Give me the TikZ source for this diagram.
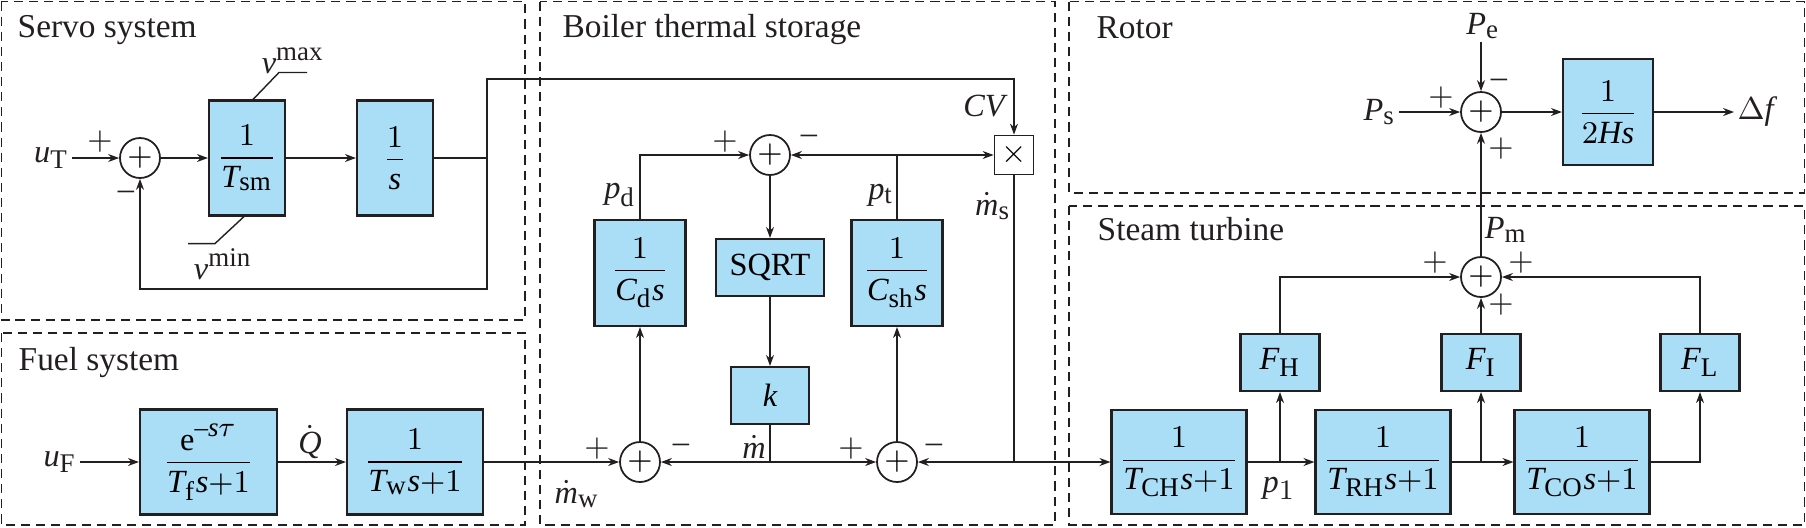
\documentclass[tikz,border=0pt]{standalone}
\usepackage{fontspec}
\setmainfont{Liberation Serif}
\usepackage{amsmath}
\usepackage[italic]{mathastext}
\usepackage{tikz}
\usetikzlibrary{arrows.meta, positioning}
\definecolor{blkfill}{RGB}{170,222,246}
\definecolor{mydark}{RGB}{35,31,32}
\newcommand{\blkfont}{\fontsize{9.2}{11}\selectfont}
\tikzset{
  block/.style={rectangle, draw=mydark, fill=blkfill, line width=0.6pt,
    inner sep=0pt, font=\blkfont},
  sumjunc/.style={circle, draw=mydark, fill=white, minimum size=4mm,
    inner sep=0pt, line width=0.5pt, font=\blkfont},
  multbox/.style={rectangle, draw=mydark, fill=white, minimum size=3.9mm,
    inner sep=0pt, line width=0.5pt, font=\blkfont},
  lbl/.style={inner sep=0.8pt, font=\blkfont, text=mydark},
  sgn/.style={inner sep=0pt, font=\blkfont, text=mydark},
  title/.style={anchor=base west, inner sep=0pt, font=\fontsize{9.5}{11}\selectfont, text=mydark},
  region/.style={draw=mydark, dash pattern=on 2.6pt off 1.7pt, line width=0.5pt},
  arrow/.style={-{Stealth[length=1.1mm, width=0.8mm]}, line width=0.4pt, color=mydark},
  line/.style={line width=0.4pt, color=mydark}
}

\begin{document}
\begin{tikzpicture}[x=0.1mm, y=-0.1mm]
  \useasboundingbox (0,0) rectangle (1806,527);

  % Subsystem frames
  \draw[region] (1.5,1.5) rectangle (525,320);
  \draw[region] (1.5,333) rectangle (525,525);
  \draw[region] (540,1.5) rectangle (1055,525);
  \draw[region] (1069,1.5) rectangle (1804.5,193);
  \draw[region] (1069,206) rectangle (1804.5,525);
  \node[title] (tServo) at (17,37) {Servo system};
  \node[title] (tFuel) at (18,370) {Fuel system};
  \node[title] (tBoiler) at (562,37) {Boiler thermal storage};
  \node[title] (tRotor) at (1096,38) {Rotor};
  \node[title] (tSteam) at (1097,240) {Steam turbine};

  % Servo system
  \node[sumjunc] (sumS) at (140,158) {$+$};
  \node[lbl, left=4.7mm of sumS] (uT) {$u_{\mathrm{T}}$};
  \node[block, minimum width=7.6mm, minimum height=11.5mm] (Tsm) at (247,158) {$\dfrac{1}{T_{\mathrm{sm}}}$};
  \node[block, minimum width=7.6mm, minimum height=11.5mm] (integ) at (395,158) {$\dfrac{1}{s}$};
  \coordinate (jCV) at (487,158);
  \coordinate (fbR) at (487,289);
  \coordinate (cvT) at (487,79);
  \node[lbl] (vmax) at (293,61) {$v^{\mathrm{max}}$};
  \node[lbl] (vmin) at (223,264) {$v^{\mathrm{min}}$};
  \draw[line] ([xshift=0.6mm]Tsm.north) -- ++(26,-27) -- ++(28,0);
  \draw[line] ([xshift=-0.3mm]Tsm.south) -- ++(-29,27) -- ++(-27,0);
  \node[sgn] at (100,142) {$+$};
  \node[sgn] at (126,195) {$-$};

  % Boiler thermal storage
  \node[sumjunc] (sumP) at (770,155) {$+$};
  \node[multbox] (mult) at (1014,155) {$\times$};
  \node[block, minimum width=9.1mm, minimum height=10.6mm] (Cd) at (640,273) {$\dfrac{1}{C_{\mathrm{d}}s}$};
  \node[block, minimum width=10.8mm, minimum height=5.7mm] (sqrtb) at (770,267.5) {SQRT};
  \node[block, minimum width=9.1mm, minimum height=10.6mm] (Csh) at (897,273) {$\dfrac{1}{C_{\mathrm{sh}}s}$};
  \node[block, minimum width=7.8mm, minimum height=5.7mm] (kgain) at (770,395.5) {$k$};
  \node[sumjunc] (sumD) at (640,462) {$+$};
  \node[sumjunc] (sumT) at (897,462) {$+$};
  \coordinate (jPt) at (897,155);
  \coordinate (jM) at (770,462);
  \coordinate (jMs) at (1014,462);
  \node[lbl] (CV) at (984,106) {$CV$};
  \node[lbl] (pd) at (620,195) {$p_{\mathrm{d}}$};
  \node[lbl] (pt) at (881,195) {$p_{\mathrm{t}}$};
  \node[lbl] (ms) at (993,206) {$\dot{m}_{\mathrm{s}}$};
  \node[lbl] (mdot) at (754,447) {$\dot{m}$};
  \node[lbl] (mw) at (577,494) {$\dot{m}_{\mathrm{w}}$};
  \node[sgn] at (725,142) {$+$};
  \node[sgn] at (809,139) {$-$};
  \node[sgn] at (597,449) {$+$};
  \node[sgn] at (681,448) {$-$};
  \node[sgn] at (851,449) {$+$};
  \node[sgn] at (934,448) {$-$};

  % Fuel system
  \node[block, minimum width=13.7mm, minimum height=10.5mm] (Tf) at (208.5,462) {$\dfrac{\mathrm{e}^{-s\tau}}{T_{\mathrm{f}}s{+}1}$};
  \node[block, minimum width=13.6mm, minimum height=10.5mm] (Tw) at (415,462) {$\dfrac{1}{T_{\mathrm{w}}s{+}1}$};
  \node[lbl, left=5.9mm of Tf] (uF) {$u_{\mathrm{F}}$};
  \node[lbl] (Qdot) at (310,442) {$\dot{Q}$};

  % Rotor
  \node[sumjunc] (sumR) at (1481,112) {$+$};
  \node[block, minimum width=9mm, minimum height=10.6mm] (Hs) at (1608,112) {$\dfrac{1}{2Hs}$};
  \node[lbl] (Pe) at (1483,26) {$P_{\mathrm{e}}$};
  \node[lbl, left=6.1mm of sumR] (Ps) {$P_{\mathrm{s}}$};
  \node[lbl, right=8mm of Hs] (df) {$\Delta f$};
  \node[sgn] at (1499,83) {$-$};
  \node[sgn] at (1441,98) {$+$};
  \node[sgn] at (1501,149) {$+$};

  % Steam turbine
  \node[sumjunc] (sumM) at (1481,277) {$+$};
  \node[block, minimum width=7.9mm, minimum height=5.7mm] (FH) at (1280,362.5) {$F_{\mathrm{H}}$};
  \node[block, minimum width=7.9mm, minimum height=5.7mm] (FI) at (1481,362.5) {$F_{\mathrm{I}}$};
  \node[block, minimum width=7.9mm, minimum height=5.7mm] (FL) at (1700,362.5) {$F_{\mathrm{L}}$};
  \node[block, minimum width=13.5mm, minimum height=10.4mm] (TCH) at (1179,462) {$\dfrac{1}{T_{\mathrm{CH}}s{+}1}$};
  \node[block, minimum width=13.5mm, minimum height=10.4mm] (TRH) at (1383,462) {$\dfrac{1}{T_{\mathrm{RH}}s{+}1}$};
  \node[block, minimum width=13.5mm, minimum height=10.4mm] (TCO) at (1582,462) {$\dfrac{1}{T_{\mathrm{CO}}s{+}1}$};
  \coordinate (jH) at (1280,462);
  \coordinate (jI) at (1481,462);
  \node[lbl] (Pm) at (1506,230) {$P_{\mathrm{m}}$};
  \node[lbl] (p1) at (1279,488) {$p_{1}$};
  \node[sgn] at (1435,263) {$+$};
  \node[sgn] at (1521,263) {$+$};
  \node[sgn] at (1501,305) {$+$};

  % Servo connections
  \draw[arrow] (uT) -- (sumS);
  \draw[arrow] (sumS) -- (Tsm);
  \draw[arrow] (Tsm) -- (integ);
  \draw[line] (integ) -- (jCV);
  \draw[arrow] (jCV) -- (fbR) -| (sumS);
  \draw[arrow] (jCV) -- (cvT) -| (mult);

  % Boiler connections
  \draw[arrow] (Cd.north) |- (sumP);
  \draw[line] (Csh.north) -- (jPt);
  \draw[arrow] (jPt) -- (sumP);
  \draw[arrow] (jPt) -- (mult);
  \draw[arrow] (sumP) -- (sqrtb);
  \draw[arrow] (sqrtb) -- (kgain);
  \draw[line] (kgain) -- (jM);
  \draw[arrow] (jM) -- (sumD);
  \draw[arrow] (jM) -- (sumT);
  \draw[line] (mult) -- (jMs);
  \draw[arrow] (jMs) -- (sumT);
  \draw[arrow] (sumD) -- (Cd);
  \draw[arrow] (sumT) -- (Csh);

  % Fuel connections
  \draw[arrow] (uF) -- (Tf);
  \draw[arrow] (Tf) -- (Tw);
  \draw[arrow] (Tw) -- (sumD);

  % Turbine and rotor connections
  \draw[arrow] (jMs) -- (TCH);
  \draw[arrow] (TCH) -- (TRH);
  \draw[arrow] (TRH) -- (TCO);
  \draw[arrow] (jH) -- (FH);
  \draw[arrow] (jI) -- (FI);
  \draw[arrow] (TCO) -| (FL);
  \draw[arrow] (FH) |- (sumM);
  \draw[arrow] (FL) |- (sumM);
  \draw[arrow] (FI) -- (sumM);
  \draw[arrow] (sumM) -- (sumR);
  \draw[arrow] (Ps) -- (sumR);
  \draw[arrow] (sumR |- Pe.south) -- (sumR);
  \draw[arrow] (sumR) -- (Hs);
  \draw[arrow] (Hs) -- (df);
\end{tikzpicture}
\end{document}
